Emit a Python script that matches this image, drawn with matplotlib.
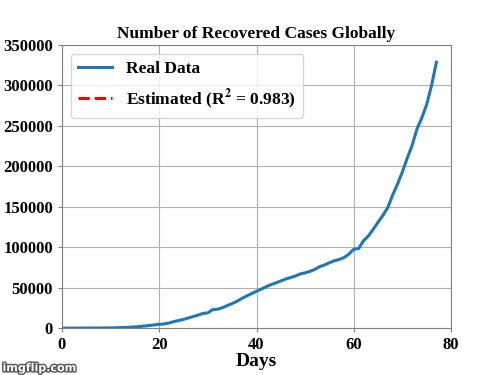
import matplotlib
matplotlib.use("Agg")
import matplotlib.pyplot as plt
import matplotlib.patheffects as pe

# global recovered cases, day 0 = 22 Jan 2020
recovered = [
    28, 30, 36, 39, 52, 61, 107, 126, 143, 222,
    284, 472, 623, 852, 1124, 1487, 2011, 2616, 3244, 3946,
    4683, 5150, 6295, 8058, 9395, 10865, 12583, 14352, 16121, 18177,
    18890, 22886, 23394, 25227, 27905, 30384, 33277, 36711, 39782, 42716,
    45602, 48228, 51170, 53796, 55865, 58358, 60694, 62494, 64404, 67003,
    68324, 70251, 72624, 76034, 78088, 80840, 83207, 84854, 87256, 91499,
    97486, 98351, 108000, 113787, 122150, 130915, 139415, 149082, 164566, 178034,
    193177, 210263, 225796, 246152, 260012, 276515, 300054, 328661,
]
days = list(range(len(recovered)))
r2 = 0.983

plt.rcParams['font.family'] = ['Liberation Serif', 'DejaVu Serif']
plt.rcParams['font.weight'] = 'bold'
plt.rcParams['mathtext.fontset'] = 'stix'

fig = plt.figure(figsize=(5, 3.75), dpi=100)
ax = fig.add_axes([0.124, 0.125, 0.778, 0.755])

ax.plot(days, recovered, color='#1f77b4', linewidth=2.2, label='Real Data')
ax.plot([], [], 'r--', linewidth=2.2, label=f'Estimated (R$^{{2}}$ = {r2})')

ax.set_xlim(0, 80)
ax.set_ylim(0, 350000)
ax.set_xticks([0, 20, 40, 60, 80])
ax.set_yticks(range(0, 350001, 50000))
ax.grid(True, color='#b0b0b0', linewidth=0.8)
for s in ax.spines.values():
    s.set_color('#808080')
ax.tick_params(labelsize=12, length=3, color='#808080')
for lab in ax.get_xticklabels() + ax.get_yticklabels():
    lab.set_fontweight('bold')

ax.set_title('Number of Recovered Cases Globally', fontsize=12.5, fontweight='bold', pad=5)
ax.set_xlabel('Days', fontsize=14, fontweight='bold', labelpad=0)
ax.legend(loc='upper left', prop={'size': 12.5, 'weight': 'bold'}, handlelength=2.0,
          labelspacing=0.6)

fig.text(0.005, 0.01, 'imgflip.com', fontsize=8, color='white', fontfamily='DejaVu Sans',
         path_effects=[pe.withStroke(linewidth=2, foreground='#555555')])

fig.savefig('out.png', dpi=100)
